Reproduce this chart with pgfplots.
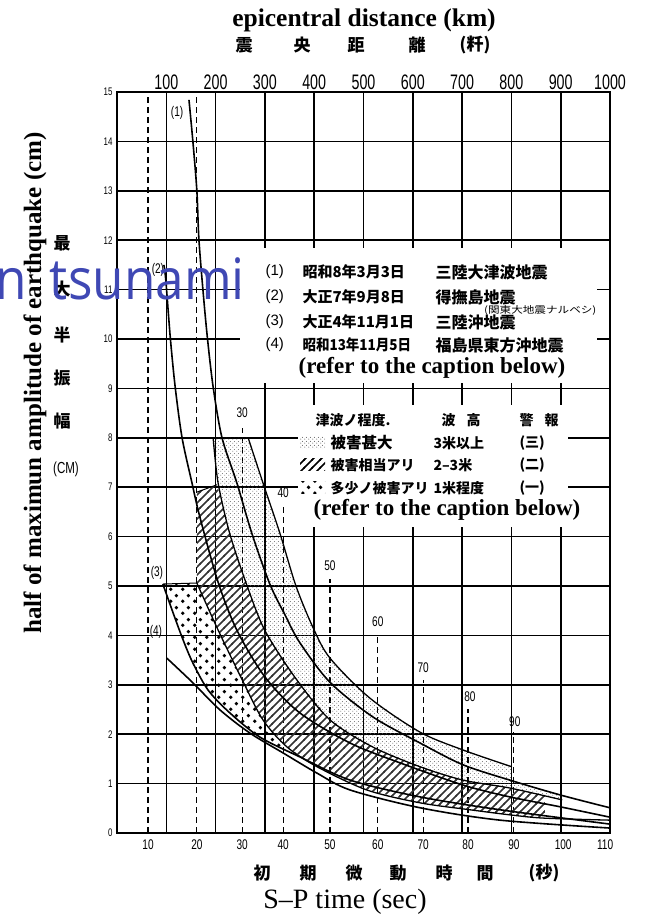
\documentclass[border=0pt]{standalone}
\usepackage{pgfplots}
\pgfplotsset{compat=1.18}
\usepackage{graphicx}
\usepackage{fontspec}
\setmainfont{Liberation Serif}
\newfontfamily\cjk{Noto Sans CJK JP}
\newfontfamily\lsans{Liberation Sans}
\newfontfamily\wm{Open Sans}
\usetikzlibrary{patterns}
\definecolor{wmblue}{RGB}{63,72,180}
\newcommand\sx[1]{\scalebox{0.72}[1]{#1}}
\newcommand\sy[1]{\scalebox{0.68}[1]{#1}}
\pgfdeclarepatternformonly{finedots}{\pgfqpoint{0pt}{0pt}}{\pgfqpoint{4pt}{4pt}}{\pgfqpoint{4pt}{4pt}}{%
 \pgfpathcircle{\pgfqpoint{1pt}{1pt}}{0.6pt}\pgfpathcircle{\pgfqpoint{3pt}{3pt}}{0.6pt}\pgfusepath{fill}}
\pgfdeclarepatternformonly{bigdots}{\pgfqpoint{0pt}{0pt}}{\pgfqpoint{12pt}{12pt}}{\pgfqpoint{12pt}{12pt}}{%
 \pgfpathcircle{\pgfqpoint{3pt}{3pt}}{2pt}\pgfpathcircle{\pgfqpoint{9pt}{9pt}}{2pt}\pgfusepath{fill}}
\pgfdeclarepatternformonly{hatchl}{\pgfqpoint{-1pt}{-1pt}}{\pgfqpoint{9pt}{9pt}}{\pgfqpoint{8pt}{8pt}}{%
 \pgfsetlinewidth{1.5pt}\pgfpathmoveto{\pgfqpoint{-1pt}{-1pt}}\pgfpathlineto{\pgfqpoint{9pt}{9pt}}\pgfusepath{stroke}}
\begin{document}
\begin{tikzpicture}
\useasboundingbox (0pt,0pt) rectangle (651pt,916pt);
% ---- axis for distance grid and top labels
\begin{axis}[at={(117pt,83pt)},anchor=south west,scale only axis,width=493pt,height=741pt,
  xmin=0,xmax=1000,ymin=0,ymax=15,
  axis x line*=top,
  xtick={100,200,...,1000},
  xticklabels={\sy{100},\sy{200},\sy{300},\sy{400},\sy{500},\sy{600},\sy{700},\sy{800},\sy{900},\sy{1000}},
  xticklabel style={font=\lsans\fontsize{21}{21}\selectfont,yshift=-1pt},
  ytick=\empty,
  xmajorgrids, grid style={line width=1.6pt,black},
  major tick length=0pt,
  axis line style={line width=2pt}]
\end{axis}
% ---- main axis
\begin{axis}[at={(117pt,83pt)},anchor=south west,scale only axis,width=493pt,height=741pt,
  xmin=0,xmax=1000,ymin=0,ymax=15,
  xtick={63,162,254,337,432,529,621,712,805,905,990},
  xticklabels={\sx{10},\sx{20},\sx{30},\sx{40},\sx{50},\sx{60},\sx{70},\sx{80},\sx{90},\sx{100},\sx{110}},
  xticklabel style={font=\lsans\fontsize{14}{14}\selectfont,yshift=-3pt},
  ytick={0,1,...,15},
  yticklabel style={font=\lsans\fontsize{11}{11}\selectfont,xshift=-1pt},
  yticklabels={\sx{0},\sx{1},\sx{2},\sx{3},\sx{4},\sx{5},\sx{6},\sx{7},\sx{8},\sx{9},\sx{10},\sx{11},\sx{12},\sx{13},\sx{14},\sx{15}},
  ymajorgrids, grid style={line width=1.6pt,black},
  major tick length=0pt,
  axis line style={line width=2pt}]
% dashed S-P lines
\addplot[black,line width=1.2pt,dash pattern=on 6pt off 4pt] coordinates {(63,0)(63,15)};
\addplot[black,line width=1.2pt,dash pattern=on 6pt off 4pt] coordinates {(162,0)(162,15)};
\addplot[black,line width=1.2pt,dash pattern=on 6pt off 4pt] coordinates {(254,0)(254,8.2)};
\addplot[black,line width=1.2pt,dash pattern=on 6pt off 4pt] coordinates {(337,0)(337,6.6)};
\addplot[black,line width=1.2pt,dash pattern=on 6pt off 4pt] coordinates {(432,0)(432,5.15)};
\addplot[black,line width=1.2pt,dash pattern=on 6pt off 4pt] coordinates {(529,0)(529,4.0)};
\addplot[black,line width=1.2pt,dash pattern=on 6pt off 4pt] coordinates {(621,0)(621,3.1)};
\addplot[black,line width=1.2pt,dash pattern=on 6pt off 4pt] coordinates {(712,0)(712,2.5)};
\addplot[black,line width=1.2pt,dash pattern=on 6pt off 4pt] coordinates {(805,0)(805,2.05)};
% stipple zone (heavy damage)
\addplot[draw=none,pattern=finedots,pattern color=black!65] coordinates {
 (195,8.0)(205,7.09)(229,6.05)(264,5.0)(300,4.1)(361,3.15)(432,2.29)(519,1.74)(615,1.34)(702,1.07)(797,0.91)(903,0.67)
 (899,0.77)(801,1.06)
 (801,1.34)(702,1.68)(615,2.04)(513,2.73)(432,3.54)(398,4.15)(363,5.0)(331,6.05)(296,7.09)(266,8.0)(195,8.0)};
% hatched zone
\addplot[draw=none,pattern=hatchl,pattern color=black!80] coordinates {
 (162,6.9)(203,7.05)(229,6.05)(264,5.0)(300,4.1)(361,3.15)(432,2.29)(519,1.74)(615,1.34)(702,1.07)(797,0.91)(868,0.76)
 (868,0.30)(803,0.36)(716,0.47)(615,0.61)(507,0.87)(406,1.34)(345,1.74)(296,2.29)(254,3.10)(205,4.11)(162,5.06)(162,6.9)};
% coarse dot zone
\addplot[draw=none,pattern=bigdots,pattern color=black] coordinates {
 (93,5.04)(162,5.06)(205,4.11)(254,3.10)(296,2.29)(345,1.74)(406,1.34)
 (371,1.54)(290,1.94)(229,2.43)(185,2.89)(154,3.44)(134,3.91)(114,4.45)(93,5.04)};
% curves
\addplot[black,line width=1.6pt,smooth,tension=0.5] coordinates {
 (146,14.84)(154,13.99)(162,13.0)(166,12.04)(174,11.03)(183,10.06)(195,9.03)(213,8.0)(243,7.09)(274,6.05)(310,5.04)(341,4.41)(371,3.85)(432,3.05)(519,2.35)(615,1.82)(702,1.38)(797,1.07)(899,0.77)(1000,0.51)};
\addplot[black,line width=1.6pt,smooth,tension=0.5] coordinates {
 (95,11.5)(99,11.19)(108,10.04)(118,9.03)(132,8.0)(152,7.09)(168,6.4)(205,5.08)(243,4.11)(300,3.16)(371,2.43)(473,1.82)(574,1.42)(702,0.97)(797,0.73)(899,0.53)(1000,0.32)};
\addplot[black,line width=1.6pt,smooth,tension=0.5] coordinates {
 (93,5.04)(114,4.45)(134,3.91)(154,3.44)(185,2.89)(229,2.43)(290,1.94)(371,1.54)(473,1.07)(615,0.73)(777,0.47)(1000,0.18)};
\addplot[black,line width=1.6pt,smooth,tension=0.5] coordinates {
 (101,3.54)(154,3.04)(209,2.49)(270,2.02)(337,1.62)(406,1.21)(473,0.87)(615,0.51)(777,0.26)(1000,0.10)};
\addplot[black,line width=1.3pt,smooth,tension=0.5] coordinates {
 (266,8.0)(296,7.09)(331,6.05)(363,5.0)(398,4.15)(432,3.54)(513,2.73)(615,2.04)(702,1.68)(801,1.34)};
\addplot[black,line width=1.3pt,smooth,tension=0.5] coordinates {
 (195,8.0)(205,7.09)(229,6.05)(264,5.0)(300,4.1)(361,3.15)(432,2.29)(519,1.74)(615,1.34)(702,1.07)(797,0.91)(903,0.67)};
\addplot[black,line width=1.3pt,smooth,tension=0.5] coordinates {
 (162,5.06)(205,4.11)(254,3.10)(296,2.29)(345,1.74)(406,1.34)(507,0.87)(615,0.61)(716,0.47)(803,0.36)(868,0.30)(1000,0.26)};
\addplot[black,line width=1.0pt] coordinates {(162,6.9)(203,7.05)};
\addplot[black,line width=1.0pt] coordinates {(93,5.04)(162,5.06)};
% S-P labels on dashed lines
\begin{scope}[font=\lsans\fontsize{14}{14}\selectfont]
\node at (axis cs:254,8.5) {\sx{30}};
\node at (axis cs:337,6.88) {\sx{40}};
\node at (axis cs:432,5.42) {\sx{50}};
\node at (axis cs:529,4.27) {\sx{60}};
\node at (axis cs:621,3.34) {\sx{70}};
\node at (axis cs:716,2.75) {\sx{80}};
\node at (axis cs:807,2.25) {\sx{90}};
\node at (axis cs:122,14.57) {\sx{(1)}};
\node at (axis cs:83,11.4) {\sx{(2)}};
\node at (axis cs:81,5.26) {\sx{(3)}};
\node at (axis cs:79,4.07) {\sx{(4)}};
\end{scope}
\end{axis}
% ---- legend boxes
\fill[white] (240pt,533pt) rectangle (597pt,668pt);
\fill[white] (298pt,389pt) rectangle (568pt,511pt);
% legend 1
\begin{scope}[font=\cjk\bfseries\fontsize{15}{15}\selectfont]
\node[anchor=west] at (262pt,644pt) {\lsans\mdseries (1)};
\node[anchor=west] at (262pt,619pt) {\lsans\mdseries (2)};
\node[anchor=west] at (262pt,594pt) {\lsans\mdseries (3)};
\node[anchor=west] at (262pt,571pt) {\lsans\mdseries (4)};
\node[anchor=west] at (299pt,644pt) {昭和8年3月3日};
\node[anchor=west] at (299pt,619pt) {大正7年9月8日};
\node[anchor=west] at (299pt,594pt) {大正4年11月1日};
\node[anchor=west] at (299pt,571pt) {\scalebox{0.9}[1]{昭和13年11月5日}};
\node[anchor=west,font=\cjk\bfseries\fontsize{16}{16}\selectfont] at (432pt,644pt) {三陸大津波地震};
\node[anchor=west,font=\cjk\bfseries\fontsize{16}{16}\selectfont] at (432pt,619pt) {得撫島地震};
\node[anchor=west,font=\cjk\bfseries\fontsize{16}{16}\selectfont] at (432pt,594pt) {三陸沖地震};
\node[anchor=west,font=\cjk\bfseries\fontsize{16}{16}\selectfont] at (432pt,571pt) {福島県東方沖地震};
\node[anchor=west,inner sep=0pt,font=\cjk\fontsize{9.5}{9.5}\selectfont] at (484pt,606pt) {\scalebox{1.22}[1]{(関東大地震ナルベシ)}};
\end{scope}
\node[font=\bfseries\fontsize{23}{23}\selectfont] at (432pt,548pt) {(refer to the caption below)};
% legend 2
\fill[pattern=finedots,pattern color=black!65] (300pt,467pt) rectangle (325pt,479pt);
\fill[pattern=hatchl,pattern color=black] (300pt,445pt) rectangle (325pt,457pt);
\fill[pattern=bigdots,pattern color=black] (300pt,422pt) rectangle (325pt,434pt);
\begin{scope}[font=\cjk\bfseries\fontsize{14}{14}\selectfont]
\node[anchor=west] at (312pt,496pt) {津波ノ程度.};
\node[anchor=west] at (438pt,496pt) {波\hspace{0.8em}高};
\node[anchor=west] at (516pt,496pt) {警\hspace{0.8em}報};
\node[anchor=west] at (327pt,473pt) {\fontsize{15.5}{15.5}\selectfont 被害甚大};
\node[anchor=west] at (327pt,451pt) {被害相当アリ};
\node[anchor=west] at (327pt,428pt) {多少ノ被害アリ};
\node[anchor=west] at (430pt,473pt) {3米以上};
\node[anchor=west] at (430pt,451pt) {2–3米};
\node[anchor=west] at (430pt,428pt) {1米程度};
\node[anchor=west] at (516pt,473pt) {(三)};
\node[anchor=west] at (516pt,451pt) {(二)};
\node[anchor=west] at (516pt,428pt) {(一)};
\end{scope}
\node[font=\bfseries\fontsize{23}{23}\selectfont] at (447pt,406pt) {(refer to the caption below)};
% titles
\node[font=\bfseries\fontsize{25.5}{25.5}\selectfont] at (364pt,896pt) {epicentral distance (km)};
\begin{scope}[font=\cjk\bfseries\fontsize{17}{17}\selectfont]
\node at (244pt,871pt) {震};
\node at (302pt,871pt) {央};
\node at (356pt,871pt) {距};
\node at (417pt,871pt) {離};
\node at (475pt,871pt) {(粁)};
\node at (262pt,43pt) {初};
\node at (308pt,43pt) {期};
\node at (354pt,43pt) {微};
\node at (398pt,43pt) {動};
\node at (444pt,43pt) {時};
\node at (485pt,43pt) {間};
\node at (544pt,43pt) {(秒)};
\node at (62pt,673pt) {最};
\node at (62pt,627pt) {大};
\node at (62pt,581pt) {半};
\node at (62pt,538pt) {振};
\node at (62pt,495pt) {幅};
\end{scope}
\node[font=\lsans\fontsize{16}{16}\selectfont] at (66pt,447pt) {\sx{(CM)}};
\node[font=\fontsize{28}{28}\selectfont] at (345pt,14pt) {S–P time (sec)};
\node[rotate=90,font=\bfseries\fontsize{25}{25}\selectfont] at (35pt,533pt) {half of maximun amplitude of earthquake (cm)};
% watermark
\node[anchor=base east,inner sep=0pt,text=wmblue,font=\wm\fontsize{57}{57}\selectfont] at (245pt,616pt) {\scalebox{0.9}[1]{n\hspace{0.45em}tsunami}};
\end{tikzpicture}
\end{document}
